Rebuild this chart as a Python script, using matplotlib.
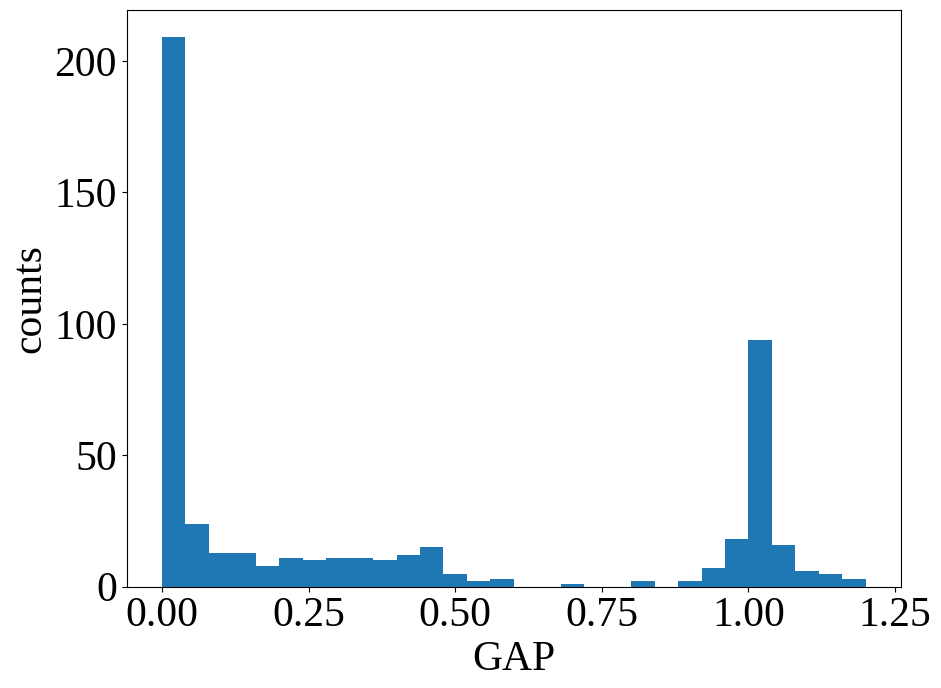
import numpy as np
import matplotlib
matplotlib.use("Agg")
import matplotlib.pyplot as plt

plt.rcParams['font.family'] = ['Liberation Serif', 'DejaVu Serif']

bin_edges = np.linspace(0, 1.2, 31)
counts = [209, 24, 13, 13, 8, 11, 10, 11, 11, 10, 12, 15, 5, 2, 3,
          0, 0, 1, 0, 0, 2, 0, 2, 7, 18, 94, 16, 6, 5, 3]

fig = plt.figure(figsize=(9.41, 6.88), dpi=100)
ax = fig.add_axes([126.7/941, 1-586.7/688, (901-126.7)/941, (586.7-9.7)/688])
ax.hist(bin_edges[:-1], bins=bin_edges, weights=counts, color='#1f77b4')
ax.set_xlabel('GAP', fontsize=30)
ax.set_ylabel('counts', fontsize=30)
ax.tick_params(labelsize=30)
ax.set_xticks([0, 0.25, 0.5, 0.75, 1.0, 1.25])
fig.savefig('out.png', dpi=100)
